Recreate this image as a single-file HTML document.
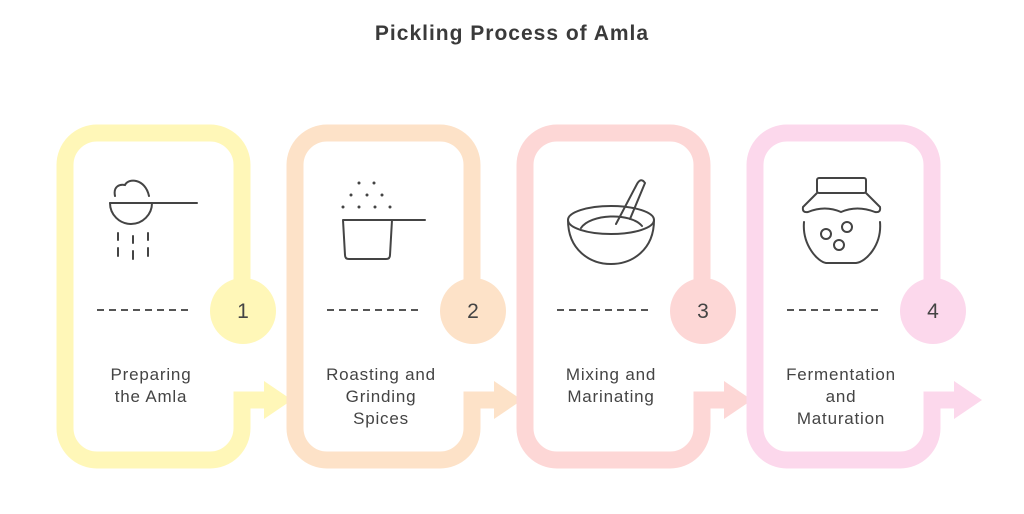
<!DOCTYPE html>
<html><head><meta charset="utf-8"><style>
body{margin:0;background:#fff;}
svg{display:block;font-family:"Liberation Sans",sans-serif;}
</style></head><body>
<svg width="1024" height="514" viewBox="0 0 1024 514">
<text x="512" y="40" text-anchor="middle" font-size="21" font-weight="bold" letter-spacing="1" fill="#3a3a3a">Pickling Process of Amla</text>
<defs>
<g id="box">
<path d="M242,280 V165 A32,32 0 0 0 210,133 H97 A32,32 0 0 0 65,165 V428 A32,32 0 0 0 97,460 H210 A32,32 0 0 0 242,428 V400 H266" fill="none" stroke-width="17" stroke-linejoin="miter"/>
<polygon points="264,381 292,400 264,419" stroke="none"/>
<circle cx="243" cy="311" r="33" stroke="none"/>
<line x1="97" y1="310" x2="190" y2="310" stroke="#555" stroke-width="2" stroke-dasharray="7,5"/>
</g>
</defs>
<g fill="#fff7b8" stroke="#fff7b8"><use href="#box"/></g>
<g fill="#fde2c8" stroke="#fde2c8" transform="translate(230,0)"><use href="#box"/></g>
<g fill="#fdd7d6" stroke="#fdd7d6" transform="translate(460,0)"><use href="#box"/></g>
<g fill="#fcd8ec" stroke="#fcd8ec" transform="translate(690,0)"><use href="#box"/></g>
<g font-size="21" fill="#444" text-anchor="middle">
<text x="243" y="318">1</text><text x="473" y="318">2</text><text x="703" y="318">3</text><text x="933" y="318">4</text>
</g>
<g font-size="17" fill="#444" text-anchor="middle" letter-spacing="0.8">
<text x="151" y="380">Preparing</text><text x="151" y="402">the Amla</text>
<text x="381" y="380">Roasting and</text><text x="381" y="402">Grinding</text><text x="381" y="424">Spices</text>
<text x="611" y="380">Mixing and</text><text x="611" y="402">Marinating</text>
<text x="841" y="380">Fermentation</text><text x="841" y="402">and</text><text x="841" y="424">Maturation</text>
</g>
<g fill="none" stroke="#444" stroke-width="2" stroke-linecap="round">
<line x1="110" y1="203" x2="197" y2="203"/>
<path d="M110,203 A21,21 0 0 0 152,203"/>
<path d="M115,196 C113,186 120,184 125,185 C128,178 145,178 149,196"/>
<path d="M118,233V240M118,248V256M133,236V243M133,251V259M148,233V240M148,248V256"/>
<path d="M343,220 H425 M343,220 L345,255 Q345,259 349,259 H386 Q390,259 390,255 L392,220"/>
<ellipse cx="611" cy="220" rx="43" ry="14"/>
<path d="M568,220 C568,250 590,264 611,264 C632,264 654,250 654,220"/>
<path d="M581,228 C590,214 630,212 642,226"/>
<path d="M616,224 L637,184 Q641,177 645,183 L630,219"/>
<rect x="817" y="178" width="49" height="15" rx="2"/>
<path d="M817,193 L803,207 Q802,213 808,212 Q825,205 841,212 Q857,205 875,212 Q881,213 880,207 L866,193"/>
<path d="M804,222 C802,245 818,262 826,263 H856 C866,262 882,245 880,222"/>
<circle cx="826" cy="234" r="5"/><circle cx="847" cy="227" r="5"/><circle cx="839" cy="245" r="5"/>
</g>
<g fill="#444">
<circle cx="359" cy="183" r="1.5"/><circle cx="374" cy="183" r="1.5"/>
<circle cx="351" cy="195" r="1.5"/><circle cx="367" cy="195" r="1.5"/><circle cx="382" cy="195" r="1.5"/>
<circle cx="343" cy="207" r="1.5"/><circle cx="359" cy="207" r="1.5"/><circle cx="375" cy="207" r="1.5"/><circle cx="390" cy="207" r="1.5"/>
</g>
</svg>
</body></html>
